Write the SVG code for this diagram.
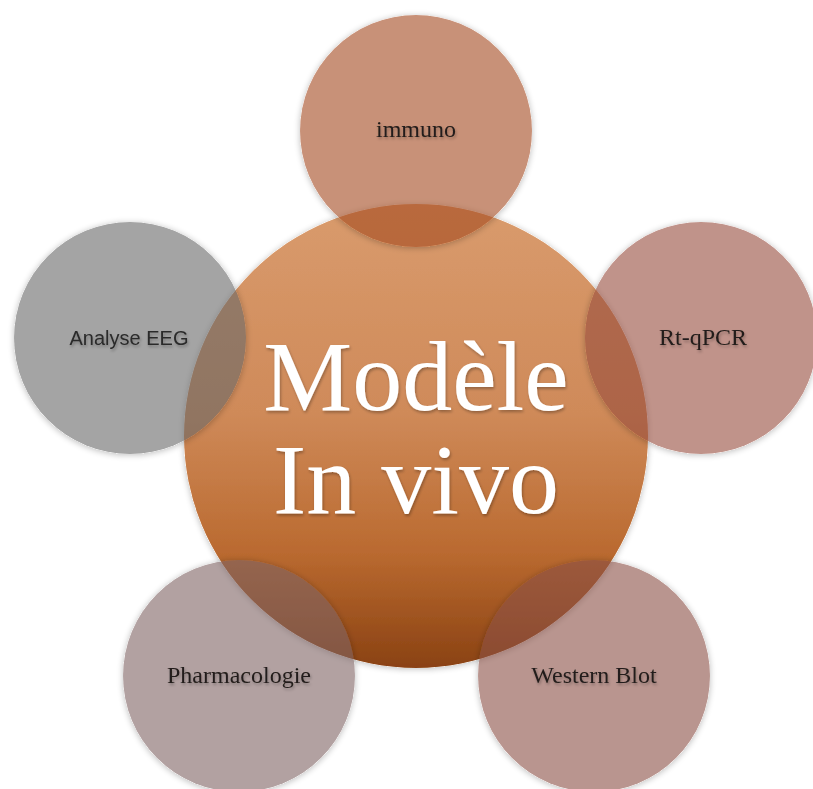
<svg xmlns="http://www.w3.org/2000/svg" width="813" height="789" viewBox="0 0 813 789">
  <defs>
    <linearGradient id="gCenter" x1="0" y1="0" x2="0" y2="1">
      <stop offset="0" stop-color="#D99B6D"/>
      <stop offset="0.45" stop-color="#CF8A59"/>
      <stop offset="0.75" stop-color="#BA6A30"/>
      <stop offset="1" stop-color="#8A4213"/>
    </linearGradient>
    <filter id="shadow" x="-20%" y="-20%" width="140%" height="140%">
      <feComponentTransfer in="SourceAlpha" result="solid"><feFuncA type="linear" slope="10"/></feComponentTransfer>
      <feGaussianBlur in="solid" stdDeviation="3" result="blur"/>
      <feOffset in="blur" dx="0" dy="1" result="off"/>
      <feComposite in="off" in2="solid" operator="out" result="ring"/>
      <feComponentTransfer in="ring" result="sh"><feFuncA type="linear" slope="0.25"/></feComponentTransfer>
      <feMerge><feMergeNode in="sh"/><feMergeNode in="SourceGraphic"/></feMerge>
    </filter>
    <filter id="tshadow" x="-10%" y="-20%" width="120%" height="150%">
      <feGaussianBlur in="SourceAlpha" stdDeviation="1.5"/>
      <feOffset dx="1" dy="2" result="b"/>
      <feComponentTransfer><feFuncA type="linear" slope="0.3"/></feComponentTransfer>
      <feMerge><feMergeNode/><feMergeNode in="SourceGraphic"/></feMerge>
    </filter>
  </defs>
  <style>
    .sat { fill-opacity: 0.6; }
    .serif { font-family: "Liberation Serif", "Times New Roman", serif; font-size: 24px; fill: #221c1a; text-anchor: middle; }
    .sans { font-family: "Liberation Sans", Arial, sans-serif; font-size: 20px; fill: #2a2a2a; text-anchor: middle; }
    .big { font-family: "Liberation Serif", "Times New Roman", serif; font-size: 100px; fill: #ffffff; text-anchor: middle; }
  </style>

  <g id="center">
    <circle cx="416" cy="436" r="232" fill="url(#gCenter)" filter="url(#shadow)"/>
  </g>

  <g id="immuno">
    <circle class="sat" cx="416" cy="131" r="116" fill="#A34921" filter="url(#shadow)"/>
    <text class="serif" x="416" y="137" filter="url(#tshadow)">immuno</text>
  </g>

  <g id="analyse-eeg">
    <circle class="sat" cx="130" cy="338" r="116" fill="#676767" filter="url(#shadow)"/>
    <text class="sans" x="129" y="345" filter="url(#tshadow)">Analyse EEG</text>
  </g>

  <g id="rt-qpcr">
    <circle class="sat" cx="701" cy="338" r="116" fill="#964B3C" filter="url(#shadow)"/>
    <text class="serif" x="703" y="345" filter="url(#tshadow)">Rt-qPCR</text>
  </g>

  <g id="pharmacologie">
    <circle class="sat" cx="239" cy="676" r="116" fill="#7F6464" filter="url(#shadow)"/>
    <text class="serif" x="239" y="683" filter="url(#tshadow)">Pharmacologie</text>
  </g>

  <g id="western-blot">
    <circle class="sat" cx="594" cy="676" r="116" fill="#8A5046" filter="url(#shadow)"/>
    <text class="serif" x="594" y="683" filter="url(#tshadow)">Western Blot</text>
  </g>

  <g id="center-label" filter="url(#tshadow)">
    <text class="big" x="416" y="410">Modèle</text>
    <text class="big" x="416" y="513">In vivo</text>
  </g>
</svg>
